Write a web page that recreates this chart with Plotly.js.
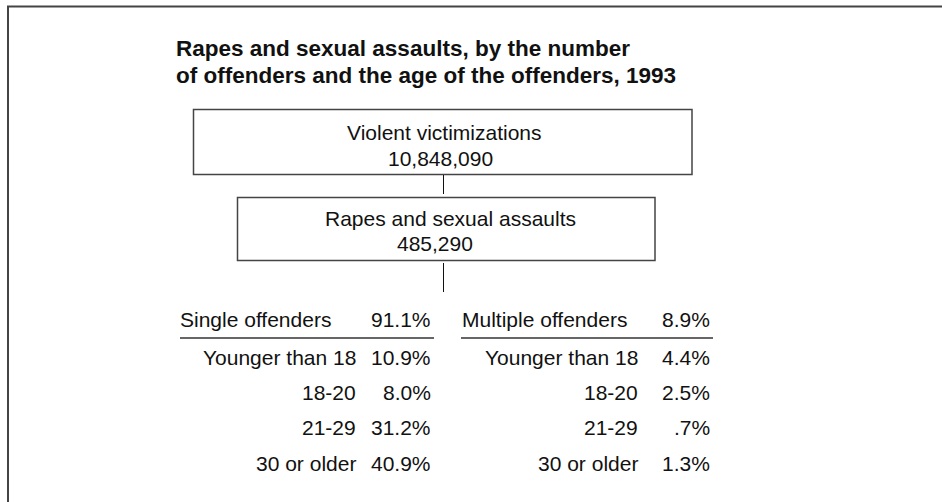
<!DOCTYPE html>
<html>
<head>
<meta charset="utf-8">
<script src="https://cdn.plot.ly/plotly-3.0.1.min.js"></script>
<style>html,body{margin:0;padding:0;background:#fff;}#chart{width:942px;height:502px;}</style>
</head>
<body>
<div id="chart"></div>
<script>
// ---- data ----
const titleLines = ["Rapes and sexual assaults, by the number", "of offenders and the age of the offenders, 1993"];
const topLabel = "Violent victimizations";
const topValue = 10848090;
const midLabel = "Rapes and sexual assaults";
const midValue = 485290;
const groupLabels = ["Single offenders", "Multiple offenders"];
const groupPct = [91.1, 8.9];
const ageLabels = ["Younger than 18", "18-20", "21-29", "30 or older"];
const singlePct = [10.9, 8.0, 31.2, 40.9];
const multiplePct = [4.4, 2.5, 0.7, 1.3];

// ---- helpers ----
function fmtPct(v) { let s = v.toFixed(1); if (s.startsWith("0")) s = s.slice(1); return s + "%"; }
function fmtNum(v) { return v.toLocaleString("en-US"); }

const FONT = '"Liberation Sans", Arial, Helvetica, sans-serif';
const TXT = "#111111";
const BODY = 21;

const annotations = [];
function addText(text, x, y, xanchor, size, bold) {
  annotations.push({
    xref: "x", yref: "y", x: x, y: y, text: bold ? "<b>" + text + "</b>" : text,
    showarrow: false, xanchor: xanchor, yanchor: "middle", align: xanchor === "left" ? "left" : (xanchor === "right" ? "right" : "center"),
    font: {family: FONT, size: size, color: TXT}
  });
}

// title (two lines)
const titleY = [48, 75.5];
titleLines.forEach((t, i) => addText(t, 174, titleY[i], "left", 22.5, true));
// boxes text
addText(topLabel, 444, 132, "center", BODY, false);
addText(fmtNum(topValue), 440, 158, "center", BODY, false);
addText(midLabel, 450, 218, "center", BODY, false);
addText(fmtNum(midValue), 435, 243, "center", BODY, false);

// table columns
const cols = [
  {hx: 178, lx: 358, vx: 433, l0: 180, l1: 434, pct: singlePct},
  {hx: 460, lx: 640, vx: 712, l0: 461, l1: 713, pct: multiplePct}
];
const headerY = 319;
const rowY = [357, 392, 427, 463];

const shapes = [];
cols.forEach((c, i) => {
  addText(groupLabels[i], c.hx, headerY, "left", BODY, false);
  addText(fmtPct(groupPct[i]), c.vx, headerY, "right", BODY, false);
  shapes.push({type: "line", xref: "x", yref: "y", x0: c.l0, x1: c.l1, y0: 338, y1: 338, line: {color: "#333333", width: 1.5}});
  ageLabels.forEach((a, j) => {
    addText(a, c.lx, rowY[j], "right", BODY, false);
    addText(fmtPct(c.pct[j]), c.vx, rowY[j], "right", BODY, false);
  });
});

// frame (top and left edges)
shapes.push({type: "line", xref: "x", yref: "y", x0: 7, x1: 942, y0: 6.5, y1: 6.5, line: {color: "#444444", width: 2}});
shapes.push({type: "line", xref: "x", yref: "y", x0: 8, x1: 8, y0: 6, y1: 502, line: {color: "#444444", width: 2}});
// boxes
shapes.push({type: "rect", xref: "x", yref: "y", x0: 193.5, x1: 692, y0: 109.5, y1: 174.5, line: {color: "#444444", width: 1.5}, fillcolor: "rgba(0,0,0,0)"});
shapes.push({type: "rect", xref: "x", yref: "y", x0: 237.5, x1: 655, y0: 197.5, y1: 260.5, line: {color: "#444444", width: 1.5}, fillcolor: "rgba(0,0,0,0)"});
// connectors
shapes.push({type: "line", xref: "x", yref: "y", x0: 443.5, x1: 443.5, y0: 175, y1: 194, line: {color: "#111111", width: 1}});
shapes.push({type: "line", xref: "x", yref: "y", x0: 443.5, x1: 443.5, y0: 263, y1: 292, line: {color: "#111111", width: 1}});

const layout = {
  width: 942, height: 502,
  margin: {l: 0, r: 0, t: 0, b: 0, pad: 0},
  paper_bgcolor: "#ffffff", plot_bgcolor: "#ffffff",
  showlegend: false,
  xaxis: {range: [0, 942], visible: false, fixedrange: true},
  yaxis: {range: [502, 0], visible: false, fixedrange: true},
  annotations: annotations,
  shapes: shapes
};

Plotly.newPlot("chart", [{type: "scatter", x: [], y: [], hoverinfo: "skip"}], layout, {staticPlot: true, displayModeBar: false});
</script>
</body>
</html>
